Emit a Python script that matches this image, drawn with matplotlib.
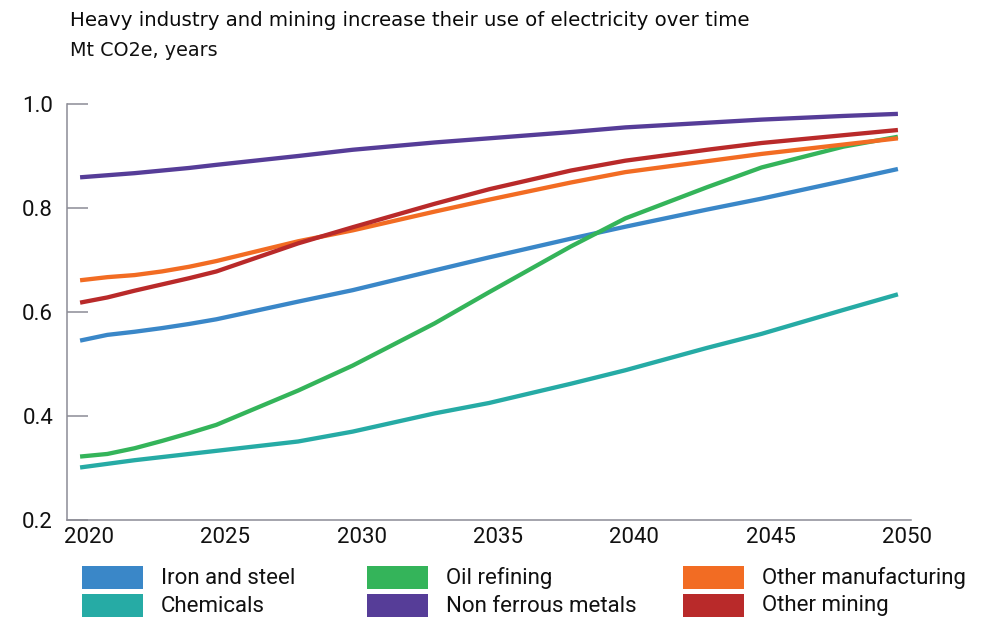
import matplotlib.pyplot as plt
import matplotlib.transforms as mtransforms
from matplotlib.patches import Rectangle

plt.rcParams['font.family'] = ['Roboto', 'DejaVu Sans']

# share of electricity in energy use, by sector
years = [2020, 2021, 2022, 2023, 2024, 2025, 2028, 2030, 2033, 2035,
         2038, 2040, 2043, 2045, 2048, 2050]

iron_steel = [0.545, 0.556, 0.562, 0.569, 0.577, 0.586, 0.620, 0.642, 0.680, 0.705,
              0.741, 0.764, 0.797, 0.818, 0.852, 0.875]
chemicals = [0.301, 0.308, 0.315, 0.321, 0.327, 0.333, 0.351, 0.370, 0.405, 0.425,
             0.462, 0.488, 0.531, 0.558, 0.604, 0.634]
oil_refining = [0.322, 0.327, 0.338, 0.352, 0.367, 0.383, 0.449, 0.497, 0.578, 0.638,
                0.726, 0.780, 0.840, 0.878, 0.918, 0.937]
non_ferrous = [0.859, 0.863, 0.867, 0.872, 0.877, 0.883, 0.900, 0.912, 0.926, 0.934,
               0.946, 0.955, 0.964, 0.970, 0.977, 0.981]
other_manuf = [0.661, 0.667, 0.671, 0.678, 0.687, 0.698, 0.736, 0.757, 0.793, 0.816,
               0.849, 0.869, 0.890, 0.904, 0.922, 0.934]
other_mining = [0.618, 0.628, 0.641, 0.653, 0.665, 0.678, 0.732, 0.763, 0.808, 0.836,
                0.872, 0.891, 0.912, 0.925, 0.940, 0.950]

labels = ['Iron and steel', 'Chemicals', 'Oil refining', 'Non ferrous metals',
          'Other manufacturing', 'Other mining']
series = [iron_steel, chemicals, oil_refining, non_ferrous, other_manuf, other_mining]
colors = ['#3a87c8', '#26aba5', '#34b45a', '#563d98', '#f26c23', '#b92a2a']

W, H = 982, 617
fig = plt.figure(figsize=(W / 100, H / 100), dpi=100)
ax = fig.add_axes([67 / W, 1 - 520 / H, (911 - 67) / W, (520 - 104) / H])

# draw order: back to front
for i in [1, 0, 2, 4, 5, 3]:
    ax.plot(years, series[i], color=colors[i], lw=3.1, solid_capstyle='butt')

ax.set_xlim(2019.52, 2050.48)
ax.set_ylim(0.2, 1.0)
ax.set_xticks(range(2020, 2051, 5))
ax.set_yticks([0.2, 0.4, 0.6, 0.8, 1.0])
ax.set_yticklabels(['0.2', '0.4', '0.6', '0.8', '1.0'])

axis_col = '#8c8c96'
for s in ['top', 'right']:
    ax.spines[s].set_visible(False)
for s in ['left', 'bottom']:
    ax.spines[s].set_color(axis_col)
    ax.spines[s].set_linewidth(1.1)

ax.tick_params(axis='y', direction='in', length=15, width=1.1, color=axis_col,
               pad=10, labelsize=16, labelcolor='#111111')
ax.tick_params(axis='x', length=0, pad=5, labelsize=16, labelcolor='#111111')

shift = mtransforms.ScaledTranslation(9 / 100, 0, fig.dpi_scale_trans)
for lab in ax.get_xticklabels():
    lab.set_transform(lab.get_transform() + shift)

fig.text(70 / W, 1 - 20 / H, 'Heavy industry and mining increase their use of electricity over time',
         fontsize=14.2, family=['DejaVu Sans'], color='#0a0a0a', va='center', ha='left')
fig.text(70 / W, 1 - 51 / H, 'Mt CO2e, years', fontsize=13.8, family=['DejaVu Sans'],
         color='#111111', va='center', ha='left')

# legend: three columns of two entries
col_x = [82, 367, 683]
row_y = [566, 594]
for k in range(6):
    c, r = divmod(k, 2)
    x0, y0 = col_x[c], row_y[r]
    fig.add_artist(Rectangle((x0 / W, 1 - (y0 + 23) / H), 61 / W, 23 / H,
                             transform=fig.transFigure, color=colors[k], lw=0))
    fig.text((x0 + 79) / W, 1 - (y0 + 12) / H, labels[k], fontsize=16,
             color='#111111', va='center', ha='left')

fig.savefig('out.png', dpi=100)
